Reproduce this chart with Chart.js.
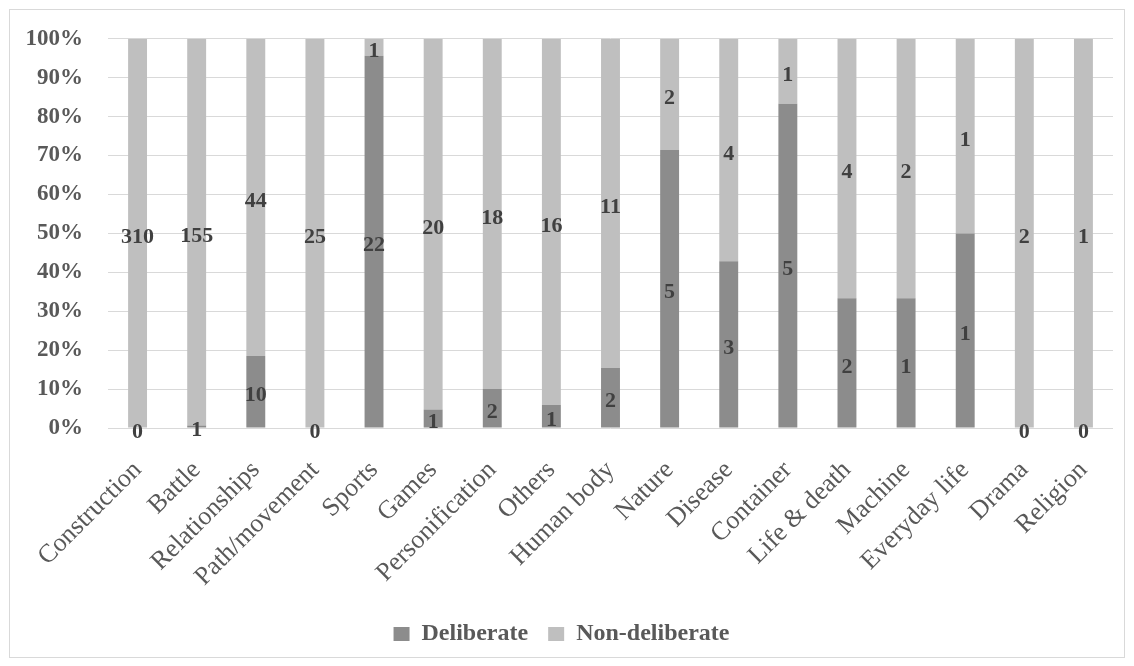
<!DOCTYPE html>
<html>
<head>
<meta charset="utf-8">
<script src="https://cdn.jsdelivr.net/npm/chart.js@4.4.0/dist/chart.umd.min.js"></script>
<style>
  html, body { margin: 0; padding: 0; background: #fff; }
  #wrap { width: 1134px; height: 666px; position: relative; }
</style>
</head>
<body>
<div id="wrap"><canvas id="chart" width="1134" height="666"></canvas></div>
<script>
// categories and counts
const categories = ['Construction', 'Battle', 'Relationships', 'Path/movement', 'Sports', 'Games',
  'Personification', 'Others', 'Human body', 'Nature', 'Disease', 'Container', 'Life & death',
  'Machine', 'Everyday life', 'Drama', 'Religion'];
const deliberate    = [0, 1, 10, 0, 22, 1, 2, 1, 2, 5, 3, 5, 2, 1, 1, 0, 0];
const nonDeliberate = [310, 155, 44, 25, 1, 20, 18, 16, 11, 2, 4, 1, 4, 2, 1, 2, 1];

const totals = categories.map((c, i) => deliberate[i] + nonDeliberate[i]);
const delibShare = deliberate.map((v, i) => v / totals[i]);
const nonDelibShare = nonDeliberate.map((v, i) => v / totals[i]);
const counts = [deliberate, nonDeliberate];

const serif = '"Liberation Serif", "Times New Roman", serif';

// draws the count in the middle of every segment
const countLabels = {
  id: 'countLabels',
  afterDatasetsDraw(chart) {
    const ctx = chart.ctx;
    ctx.save();
    ctx.font = 'bold 22px ' + serif;
    ctx.fillStyle = '#404040';
    ctx.textAlign = 'center';
    ctx.textBaseline = 'middle';
    chart.data.datasets.forEach((ds, di) => {
      const meta = chart.getDatasetMeta(di);
      meta.data.forEach((bar, i) => {
        const p = bar.getProps(['x', 'y', 'base'], true);
        ctx.fillText(String(counts[di][i]), p.x, (p.y + p.base) / 2 + 4);
      });
    });
    ctx.restore();
  }
};

// thin frame around the whole chart
const frame = {
  id: 'frame',
  beforeDraw(chart) {
    const ctx = chart.ctx;
    ctx.save();
    ctx.strokeStyle = '#d9d9d9';
    ctx.lineWidth = 1;
    ctx.strokeRect(9.5, 9.5, 1115, 648);
    ctx.restore();
  }
};

new Chart(document.getElementById('chart'), {
  type: 'bar',
  data: {
    labels: categories,
    datasets: [
      { label: 'Deliberate', data: delibShare, backgroundColor: '#8c8c8c',
        categoryPercentage: 0.8, barPercentage: 0.4 },
      { label: 'Non-deliberate', data: nonDelibShare, backgroundColor: '#bfbfbf',
        categoryPercentage: 0.8, barPercentage: 0.4 }
    ]
  },
  options: {
    responsive: false,
    animation: false,
    layout: { padding: { left: 10, right: 21, top: 28, bottom: 10 } },
    plugins: {
      tooltip: { enabled: false },
      legend: {
        position: 'bottom',
        labels: {
          color: '#595959',
          font: { family: serif, size: 24, weight: 'bold' },
          boxWidth: 16,
          boxHeight: 14,
          padding: 20
        }
      }
    },
    scales: {
      x: {
        stacked: true,
        grid: { display: false },
        border: { display: false },
        ticks: {
          color: '#595959',
          font: { family: serif, size: 26 },
          minRotation: 45,
          maxRotation: 45,
          autoSkip: false,
          padding: 19
        },
        afterFit(scale) { scale.height = 174; }
      },
      y: {
        stacked: true,
        min: 0,
        max: 1,
        border: { display: false },
        grid: { color: '#d9d9d9', drawTicks: false },
        ticks: {
          stepSize: 0.1,
          padding: 25,
          color: '#595959',
          font: { family: serif, size: 23, weight: 'bold' },
          callback: v => Math.round(v * 100) + '%'
        },
        afterFit(scale) { scale.width = 98; }
      }
    }
  },
  plugins: [frame, countLabels]
});
</script>
</body>
</html>
